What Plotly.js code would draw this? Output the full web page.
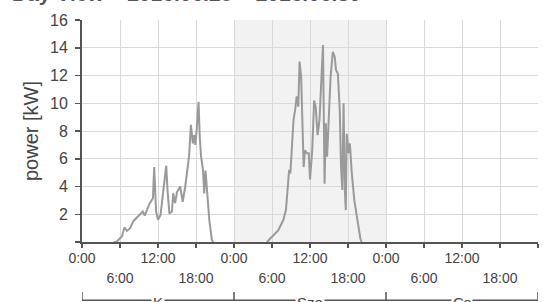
<!DOCTYPE html>
<html><head><meta charset="utf-8">
<script src="https://cdn.plot.ly/plotly-3.0.1.min.js"></script>
<style>html,body{margin:0;padding:0;background:#fff;}#chart{width:551px;height:302px;}</style>
</head><body><div id="chart"></div>
<script>
// hours since 2016-06-28 0:00
var day1Hours = [5.0, 5.4, 6.3, 6.7, 7.1, 7.6, 8.1, 8.7, 9.2, 9.6, 9.9, 10.4, 10.7, 11.2, 11.4, 11.7, 12.0, 12.4, 12.8, 13.3, 13.5, 13.8, 14.2, 14.4, 14.7, 15.0, 15.5, 15.7, 15.9, 16.3, 16.6, 16.9, 17.2, 17.5, 17.7, 17.9, 18.1, 18.4, 18.6, 18.8, 19.1, 19.3, 19.5, 19.7, 20.1, 20.5, 20.7];
var day1Power = [0, 0, 0.4, 1.05, 0.8, 1.0, 1.5, 1.8, 2.0, 2.2, 1.9, 2.4, 2.8, 3.15, 5.4, 2.2, 1.6, 1.95, 3.75, 5.5, 3.75, 2.05, 2.2, 3.5, 2.8, 3.6, 4.0, 3.5, 2.9, 4.0, 4.95, 6.15, 8.45, 7.1, 7.7, 7.0, 8.05, 10.1, 7.5, 6.15, 5.2, 3.5, 5.15, 3.75, 1.6, 0.15, 0];
// hours of day 2 (offset by 24 when plotted)
var day2Hours = [5.2, 6.0, 7.0, 7.8, 8.2, 8.5, 8.7, 8.9, 9.1, 9.4, 9.65, 9.9, 10.15, 10.35, 10.6, 10.8, 11.0, 11.2, 11.5, 11.8, 12.0, 12.35, 12.65, 12.9, 13.2, 13.5, 13.8, 14.05, 14.3, 14.5, 14.7, 14.95, 15.25, 15.6, 15.9, 16.1, 16.4, 16.7, 16.9, 17.1, 17.3, 17.5, 17.65, 17.8, 18.1, 18.3, 18.6, 19.0, 19.55, 19.95, 20.15];
var day2Power = [0, 0.4, 0.85, 1.6, 2.3, 4.0, 5.2, 4.95, 6.6, 8.8, 9.5, 10.5, 9.75, 13.0, 11.9, 7.6, 5.4, 6.6, 6.4, 6.4, 4.5, 6.6, 10.2, 9.75, 7.7, 8.8, 11.4, 14.2, 4.2, 8.55, 6.15, 8.8, 11.9, 13.7, 13.35, 12.4, 12.15, 9.5, 5.4, 3.75, 10.0, 3.75, 2.3, 7.8, 6.4, 7.1, 4.95, 3.0, 1.35, 0.25, 0];

var mainTickVals = [0, 6, 12, 18, 24, 30, 36, 42, 48, 54, 60, 66, 72];
var mainTickText = ['0:00', '', '12:00', '', '0:00', '', '12:00', '', '0:00', '', '12:00', '', '0:00'];
var subTickVals = [6, 18, 30, 42, 54, 66];
var subTickText = ['6:00', '18:00', '6:00', '18:00', '6:00', '18:00'];
var yTickVals = [0, 2, 4, 6, 8, 10, 12, 14, 16];
var yTickText = ['', '2', '4', '6', '8', '10', '12', '14', '16'];
var dayBounds = [0, 24, 48, 72];
var dayLabels = ['K', 'Sze', 'Cs'];
var shadedDay = [24, 48];
var titleText = 'Day View \u2013 2016.06.28 \u2013 2016.06.30';

var xs = day1Hours.concat([null], day2Hours.map(function (h) { return h + 24; }));
var ys = day1Power.concat([null], day2Power);

var txt = '#444';
var axisCol = '#555';

var shapes = [{
  type: 'rect', xref: 'x', yref: 'paper', x0: shadedDay[0], x1: shadedDay[1], y0: 0, y1: 1,
  fillcolor: '#f2f2f2', line: {width: 0}, layer: 'below'
}];
var bracketY = -0.262, bracketTop = -0.225;
shapes.push({type: 'line', xref: 'x', yref: 'paper', x0: dayBounds[0], x1: dayBounds[dayBounds.length - 1],
  y0: bracketY, y1: bracketY, line: {color: axisCol, width: 1.5}});
dayBounds.forEach(function (b) {
  shapes.push({type: 'line', xref: 'x', yref: 'paper', x0: b, x1: b, y0: bracketY, y1: bracketTop,
    line: {color: axisCol, width: 1.5}});
});
var annotations = dayLabels.map(function (lab, i) {
  return {xref: 'x', yref: 'paper', x: (dayBounds[i] + dayBounds[i + 1]) / 2, y: -0.272,
    text: lab, showarrow: false, bgcolor: '#fff', font: {size: 15, color: txt}, xanchor: 'center', yanchor: 'middle'};
});
annotations.push({xref: 'paper', yref: 'paper', x: -0.158, y: 1.12, xanchor: 'left', yanchor: 'middle',
  text: '<b>' + titleText + '</b>', showarrow: false, font: {size: 21, color: '#555'}});

var data = [
  {x: xs, y: ys, type: 'scatter', mode: 'lines', line: {color: '#9a9a9a', width: 2}, hoverinfo: 'none', xaxis: 'x', yaxis: 'y', connectgaps: false},
  {x: [0, 72], y: [null, null], type: 'scatter', mode: 'lines', xaxis: 'x2', yaxis: 'y', showlegend: false, hoverinfo: 'none'}
];

var layout = {
  width: 551, height: 302,
  margin: {l: 82, r: 13, t: 20, b: 60},
  paper_bgcolor: '#fff', plot_bgcolor: 'rgba(0,0,0,0)',
  showlegend: false,
  font: {family: 'Liberation Sans, Arial, sans-serif', color: txt},
  xaxis: {
    range: [0, 72], tickmode: 'array', tickvals: mainTickVals, ticktext: mainTickText,
    showgrid: true, gridcolor: '#d9d9d9', gridwidth: 1, zeroline: false,
    showline: true, linecolor: axisCol, linewidth: 2,
    ticks: 'outside', ticklen: 4, tickcolor: axisCol, tickwidth: 1.5,
    tickfont: {size: 14, color: txt}, ticklabelstandoff: -2, fixedrange: true
  },
  xaxis2: {
    overlaying: 'x', anchor: 'y', side: 'bottom', range: [0, 72],
    tickmode: 'array', tickvals: subTickVals, ticktext: subTickText,
    showgrid: false, showline: false, zeroline: false, ticks: '',
    tickfont: {size: 14, color: txt}, ticklabelstandoff: 26, fixedrange: true
  },
  yaxis: {
    range: [0, 16], tickmode: 'array', tickvals: yTickVals, ticktext: yTickText,
    showgrid: true, gridcolor: '#d9d9d9', gridwidth: 1, zeroline: false,
    showline: true, linecolor: axisCol, linewidth: 2,
    ticks: 'outside', ticklen: 5, tickcolor: axisCol, tickwidth: 1.5,
    tickfont: {size: 16, color: txt}, ticklabelstandoff: 4, fixedrange: true,
    title: {text: 'power [kW]', font: {size: 20, color: txt}, standoff: 6}
  },
  shapes: shapes,
  annotations: annotations
};

Plotly.newPlot('chart', data, layout, {staticPlot: true, displayModeBar: false});
</script>
</body></html>
